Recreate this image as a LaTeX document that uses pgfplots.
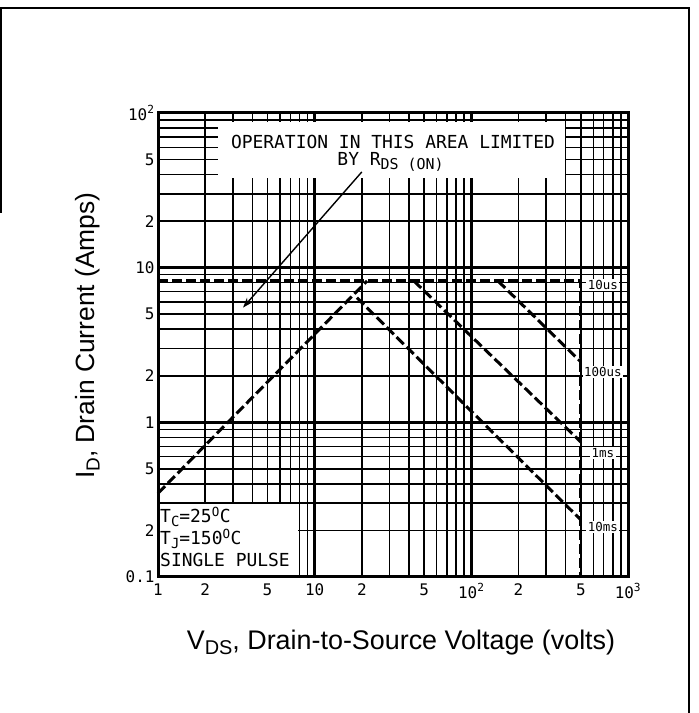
\documentclass[border=0pt]{standalone}
\usepackage{pgfplots}
\pgfplotsset{compat=1.18}
\usepackage{fontspec}
\setmainfont{Liberation Sans}
\newfontfamily\mono{DejaVu Sans Mono}
\usetikzlibrary{arrows.meta}
\newcommand{\lsub}[2]{\raisebox{-0.35ex}{\fontsize{#1}{#1}\selectfont #2}}
\begin{document}
\begin{tikzpicture}[x=1bp,y=1bp]
\useasboundingbox (0,0) rectangle (699,713);
\draw[line width=2.5bp] (0.8,500) -- (0.8,705) -- (689,705) -- (689,-5);
\begin{axis}[
  at={(158bp,136bp)}, anchor=south west,
  scale only axis, width=470bp, height=464bp,
  xmode=log, ymode=log,
  xmin=1, xmax=1000, ymin=0.1, ymax=100,
  axis line style={line width=3bp},
  grid=both,
  major grid style={line width=3bp, black},
  minor grid style={line width=1.5bp, black},
  major tick length=0pt, minor tick length=0pt,
  xtick={1,10,100,1000},
  xticklabels={1,10,{10\textsuperscript{2}},{10\textsuperscript{3}}},
  ytick={0.1,1,10,100},
  yticklabels={0.1,1,10,{10\textsuperscript{2}}},
  extra x ticks={2,5,20,50,200,500},
  extra x tick labels={2,5,2,5,2,5},
  extra x tick style={grid=none, major tick length=0pt},
  extra y ticks={0.2,0.5,2,5,20,50},
  extra y tick labels={2,5,2,5,2,5},
  extra y tick style={grid=none, major tick length=0pt},
  tick label style={font=\mono\fontsize{16}{16}\selectfont},
  xticklabel style={yshift=-3bp},
  /pgf/number format/assume math mode=true,
  xlabel={V\lsub{20}{DS}, Drain-to-Source Voltage (volts)},
  ylabel={I\lsub{19}{D}, Drain Current (Amps)},
  xlabel style={font=\fontsize{27}{27}\selectfont, at={(rel axis cs:0.517,-0.142)}, anchor=center},
  ylabel style={font=\fontsize{26.5}{26.5}\selectfont, at={(rel axis cs:-0.149,0.52)}, anchor=center},
  clip=false,
]
% white boxes over the grid paper
\fill[white] (axis cs:2.41,38) rectangle (axis cs:395,87.5);
\fill[white] (axis cs:1.025,0.1025) rectangle (axis cs:7.88,0.295);
% limit lines
\addplot[black, line width=3bp, dash pattern=on 10bp off 4bp] coordinates {(1,0.348) (21.6,8.2)};
\addplot[black, line width=3bp, dash pattern=on 10bp off 4bp] coordinates {(1,8.2) (500,8.2) (500,0.1)};
\addplot[black, line width=3bp, dash pattern=on 10bp off 4bp] coordinates {(148,8.2) (500,2.46)};
\addplot[black, line width=3bp, dash pattern=on 10bp off 4bp] coordinates {(43,8.2) (500,0.746)};
\addplot[black, line width=3bp, dash pattern=on 10bp off 4bp] coordinates {(18.6,6.4) (500,0.234)};
% annotation
\node[font=\mono\fontsize{18}{18}\selectfont, inner sep=0pt] at (axis cs:31.6,64.9) {OPERATION IN THIS AREA LIMITED};
\node[font=\mono\fontsize{18}{18}\selectfont, inner sep=0pt] at (axis cs:30.5,48.2) {BY R\lsub{15}{DS (ON)}};
\draw[line width=1.4bp, -{Stealth[length=10bp,width=7bp]}] (axis cs:20,41.6) -- (axis cs:3.49,5.52);
\node[font=\mono\fontsize{18}{22}\selectfont, anchor=north west, align=left, inner sep=0pt] at (axis cs:1.03,0.283)
  {T\lsub{14}{C}=25\textsuperscript{O}C\\T\lsub{14}{J}=150\textsuperscript{O}C\\SINGLE PULSE};
\node[font=\mono\fontsize{12.5}{12.5}\selectfont, fill=white, inner sep=1.5bp] at (axis cs:692,7.73) {10us};
\node[font=\mono\fontsize{12.5}{12.5}\selectfont, fill=white, inner sep=1.5bp] at (axis cs:692,2.12) {100us};
\node[font=\mono\fontsize{12.5}{12.5}\selectfont, fill=white, inner sep=1.5bp] at (axis cs:692,0.634) {1ms};
\node[font=\mono\fontsize{12.5}{12.5}\selectfont, fill=white, inner sep=1.5bp] at (axis cs:692,0.211) {10ms};
\draw[line width=3bp] (rel axis cs:0,0) rectangle (rel axis cs:1,1);
\end{axis}
\end{tikzpicture}
\end{document}
